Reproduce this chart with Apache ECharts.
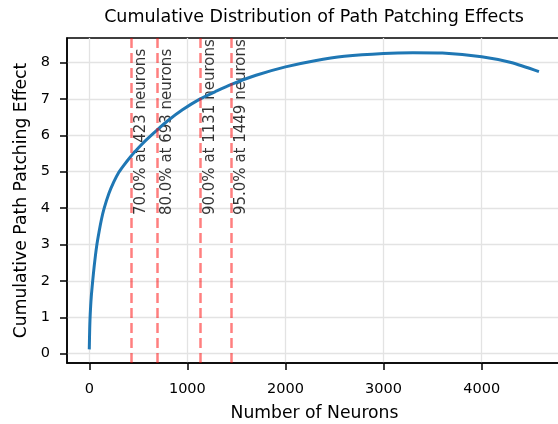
<!DOCTYPE html>
<html>
<head>
<meta charset="utf-8">
<script src="https://cdn.jsdelivr.net/npm/echarts@6/dist/echarts.min.js"></script>
<style>
  html, body { margin: 0; padding: 0; background: #fff; }
  #chart { width: 558px; height: 424px; }
</style>
</head>
<body>
<div id="chart"></div>
<script>
// cumulative curve
const neurons = [0, 5, 10, 20, 35, 50, 75, 100, 125, 150, 200, 250, 300, 350, 423, 500, 568, 693, 800, 950, 1131, 1300, 1449, 1700, 2000, 2300, 2600, 3000, 3300, 3600, 4000, 4300, 4584]
const effect = [0.12, 0.75, 1.1, 1.55, 2.0, 2.4, 2.95, 3.35, 3.7, 3.98, 4.4, 4.72, 4.98, 5.17, 5.42, 5.65, 5.84, 6.15, 6.4, 6.7, 7.0, 7.22, 7.4, 7.65, 7.88, 8.05, 8.17, 8.25, 8.27, 8.26, 8.16, 8.0, 7.75]

// threshold markers
const thresholdPct = [70.0, 80.0, 90.0, 95.0]
const thresholdNeurons = [423, 693, 1131, 1449]
const labelY = 3.81

const xTicks = [0, 1000, 2000, 3000, 4000]
const yTicks = [0, 1, 2, 3, 4, 5, 6, 7, 8]

const font = 'DejaVu Sans'
const chart = echarts.init(document.getElementById('chart'))

const axisCommon = {
  axisLine: { show: true, onZero: false, lineStyle: { color: '#000', width: 1.5 } },
  splitLine: { show: true, lineStyle: { color: '#e3e3e3', width: 1.3 } },
  nameTextStyle: { color: '#000', fontFamily: font, fontSize: 17.2 }
}

chart.setOption({
  animation: false,
  title: {
    text: 'Cumulative Distribution of Path Patching Effects',
    left: 314,
    top: 7,
    textAlign: 'center',
    padding: 0,
    textStyle: { color: '#000', fontFamily: font, fontSize: 17.5, fontWeight: 'normal', lineHeight: 20 }
  },
  grid: {
    left: 67, right: -4, top: 38, bottom: 61,
    outerBoundsMode: 'none',
    show: true, borderColor: '#000', borderWidth: 1.5
  },
  xAxis: {
    ...axisCommon,
    type: 'value',
    min: -227,
    max: 4819,
    name: 'Number of Neurons',
    nameLocation: 'middle',
    nameGap: 42,
    axisTick: { show: true, length: 7, customValues: xTicks, lineStyle: { color: '#000', width: 1.5 } },
    axisLabel: { customValues: xTicks, margin: 19, color: '#000', fontFamily: font, fontSize: 14.5, formatter: v => String(v) }
  },
  yAxis: {
    ...axisCommon,
    type: 'value',
    min: -0.255,
    max: 8.674,
    name: 'Cumulative Path Patching Effect',
    nameLocation: 'middle',
    nameGap: 37,
    axisTick: { show: true, length: 7, customValues: yTicks, lineStyle: { color: '#000', width: 1.5 } },
    axisLabel: { customValues: yTicks, margin: 17, color: '#000', fontFamily: font, fontSize: 14.5, formatter: v => String(v) }
  },
  series: [
    {
      type: 'line',
      data: neurons.map((n, i) => [n, effect[i]]),
      showSymbol: false,
      smooth: 0.25,
      lineStyle: { color: '#1f77b4', width: 3 },
      markLine: {
        silent: true,
        symbol: 'none',
        label: { show: false },
        lineStyle: { color: 'rgba(255,0,0,0.5)', type: [10, 5], width: 2.5 },
        data: thresholdNeurons.map(n => ({ xAxis: n }))
      }
    },
    {
      type: 'scatter',
      data: thresholdNeurons.map(n => [n, labelY]),
      symbolSize: 0,
      silent: true,
      label: {
        show: true,
        position: 'right',
        distance: 10,
        rotate: 90,
        color: '#000',
        fontFamily: font,
        fontSize: 15,
        formatter: p => thresholdPct[p.dataIndex].toFixed(1) + '% at ' + thresholdNeurons[p.dataIndex] + ' neurons'
      }
    }
  ]
})
</script>
</body>
</html>
